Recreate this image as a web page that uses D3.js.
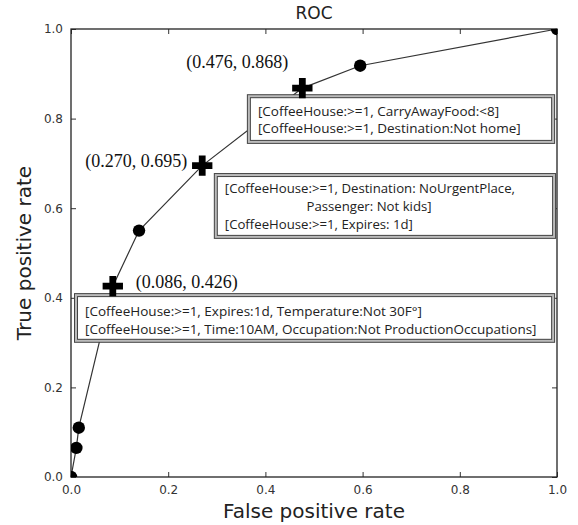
<!DOCTYPE html>
<html>
<head>
<meta charset="utf-8">
<script src="https://cdn.jsdelivr.net/npm/d3@7"></script>
<style>
  body { margin: 0; background: #fff; }
  svg { display: block; }
</style>
</head>
<body>
<svg width="578" height="525"></svg>
<script>
// ROC points
const fpr = [0, 0.011, 0.016, 0.086, 0.14, 0.270, 0.476, 0.595, 1.0];
const tpr = [0, 0.065, 0.110, 0.426, 0.55, 0.695, 0.868, 0.918, 1.0];
const markerType = ["circle", "circle", "circle", "plus", "circle", "plus", "plus", "circle", "circle"];

const xTicks = [0, 0.2, 0.4, 0.6, 0.8, 1.0];
const yTicks = [0, 0.2, 0.4, 0.6, 0.8, 1.0];

// labels for the plus points
const pointLabels = ["(0.086, 0.426)", "(0.270, 0.695)", "(0.476, 0.868)"];

// rule boxes
const boxLines = [
  ["[CoffeeHouse:>=1, CarryAwayFood:<8]", "[CoffeeHouse:>=1, Destination:Not home]"],
  ["[CoffeeHouse:>=1, Destination: NoUrgentPlace,", "Passenger: Not kids]", "[CoffeeHouse:>=1, Expires: 1d]"],
  ["[CoffeeHouse:>=1, Expires:1d, Temperature:Not 30F\u00b0]", "[CoffeeHouse:>=1, Time:10AM, Occupation:Not ProductionOccupations]"]
];

const svg = d3.select("svg");
const pLeft = 71, pRight = 557, pTop = 29, pBottom = 477;

const x = d3.scaleLinear().domain([0, 1]).range([pLeft, pRight]);
const y = d3.scaleLinear().domain([0, 1]).range([pBottom, pTop]);

const points = fpr.map((d, i) => ({ x: d, y: tpr[i], type: markerType[i] }));

// clip for the markers at the corners
svg.append("clipPath").attr("id", "plot")
  .append("rect")
  .attr("x", pLeft).attr("y", pTop)
  .attr("width", pRight - pLeft).attr("height", pBottom - pTop);

const tickFont = "DejaVu Sans, sans-serif";

// ticks on all four sides, pointing in
const axisColor = "#333";
const g = svg.append("g");

g.append("g")
  .attr("transform", `translate(0,${pBottom})`)
  .call(d3.axisBottom(x).tickValues(xTicks).tickFormat(d3.format(".1f")).tickSizeInner(-5).tickSizeOuter(0).tickPadding(8));
g.append("g")
  .attr("transform", `translate(0,${pTop})`)
  .call(d3.axisTop(x).tickValues(xTicks).tickFormat("").tickSizeInner(-5).tickSizeOuter(0));
g.append("g")
  .attr("transform", `translate(${pLeft},0)`)
  .call(d3.axisLeft(y).tickValues(yTicks).tickFormat(d3.format(".1f")).tickSizeInner(-5).tickSizeOuter(0).tickPadding(8));
g.append("g")
  .attr("transform", `translate(${pRight},0)`)
  .call(d3.axisRight(y).tickValues(yTicks).tickFormat("").tickSizeInner(-5).tickSizeOuter(0));

g.selectAll(".domain").remove();
g.selectAll(".tick line").attr("stroke", axisColor);
g.selectAll(".tick text")
  .attr("font-family", tickFont)
  .attr("font-size", 12)
  .attr("fill", "#333");

svg.append("rect")
  .attr("x", pLeft).attr("y", pTop)
  .attr("width", pRight - pLeft).attr("height", pBottom - pTop)
  .attr("fill", "none")
  .attr("stroke", "#222")
  .attr("stroke-width", 1.3);

// the curve
const line = d3.line().x(d => x(d.x)).y(d => y(d.y));
svg.append("path")
  .datum(points)
  .attr("d", line)
  .attr("fill", "none")
  .attr("stroke", "#333")
  .attr("stroke-width", 1.2);

// boxes (data coords of their corners)
const boxFont = "Open Sans, sans-serif";
const boxes = [
  { x0: 0.366, x1: 0.992, y0: 0.850, y1: 0.748, lines: boxLines[0], indent: [0, 0], lh: 17, shift: 1, fs: 13.5 },
  { x0: 0.298, x1: 0.994, y0: 0.674, y1: 0.536, lines: boxLines[1], indent: [0, 0.168, 0], lh: 18, shift: 0.5, fs: 13.2 },
  { x0: 0.0103, x1: 0.992, y0: 0.406, y1: 0.304, lines: boxLines[2], indent: [0, 0], lh: 18, shift: 2, fs: 13.5 }
];

boxes.forEach(b => {
  const bx = x(b.x0), by = y(b.y0), bw = x(b.x1) - x(b.x0), bh = y(b.y1) - y(b.y0);
  const bg = svg.append("g");
  bg.append("rect")
    .attr("x", bx).attr("y", by).attr("width", bw).attr("height", bh)
    .attr("fill", "#fff").attr("stroke", "#444").attr("stroke-width", 4);
  bg.append("rect")
    .attr("x", bx).attr("y", by).attr("width", bw).attr("height", bh)
    .attr("fill", "none").attr("stroke", "#bbb").attr("stroke-width", 2);
  const cy = by + bh / 2 + b.shift;
  const n = b.lines.length;
  b.lines.forEach((t, i) => {
    bg.append("text")
      .attr("x", bx + 9 + b.indent[i] * (pRight - pLeft))
      .attr("y", cy + (i - (n - 1) / 2) * b.lh)
      .attr("dy", "0.35em")
      .attr("font-family", boxFont)
      .attr("font-size", b.fs)
      .attr("fill", "#222")
      .text(t);
  });
});

// markers
const mk = svg.append("g").attr("clip-path", "url(#plot)");
mk.selectAll("circle")
  .data(points.filter(d => d.type === "circle"))
  .join("circle")
  .attr("cx", d => x(d.x))
  .attr("cy", d => y(d.y))
  .attr("r", 6.2)
  .attr("fill", "#000");
mk.selectAll("path.plus")
  .data(points.filter(d => d.type === "plus"))
  .join("path")
  .attr("class", "plus")
  .attr("transform", d => `translate(${x(d.x)},${y(d.y)})`)
  .attr("d", d3.symbol(d3.symbolCross, 230))
  .attr("fill", "#000");

// coordinate labels next to the plus markers
const plusPts = points.filter(d => d.type === "plus");
const labelOffset = [
  { dx: 23, dy: -4.5, anchor: "start" },
  { dx: -15, dy: -5, anchor: "end" },
  { dx: -14, dy: -26, anchor: "end" }
];
plusPts.forEach((p, i) => {
  svg.append("text")
    .attr("x", x(p.x) + labelOffset[i].dx)
    .attr("y", y(p.y) + labelOffset[i].dy)
    .attr("dy", "0.35em")
    .attr("text-anchor", labelOffset[i].anchor)
    .attr("font-family", "Liberation Serif, serif")
    .attr("font-size", 18)
    .attr("fill", "#111")
    .text(pointLabels[i]);
});

// title and axis titles
svg.append("text")
  .attr("x", (pLeft + pRight) / 2).attr("y", 13)
  .attr("dy", "0.35em")
  .attr("text-anchor", "middle")
  .attr("font-family", tickFont)
  .attr("font-size", 17)
  .attr("fill", "#222")
  .text("ROC");

svg.append("text")
  .attr("x", (pLeft + pRight) / 2).attr("y", 511)
  .attr("dy", "0.35em")
  .attr("text-anchor", "middle")
  .attr("font-family", tickFont)
  .attr("font-size", 20)
  .attr("fill", "#222")
  .text("False positive rate");

svg.append("text")
  .attr("transform", `translate(24,${(pTop + pBottom) / 2}) rotate(-90)`)
  .attr("dy", "0.35em")
  .attr("text-anchor", "middle")
  .attr("font-family", tickFont)
  .attr("font-size", 20)
  .attr("fill", "#222")
  .text("True positive rate");
</script>
</body>
</html>
